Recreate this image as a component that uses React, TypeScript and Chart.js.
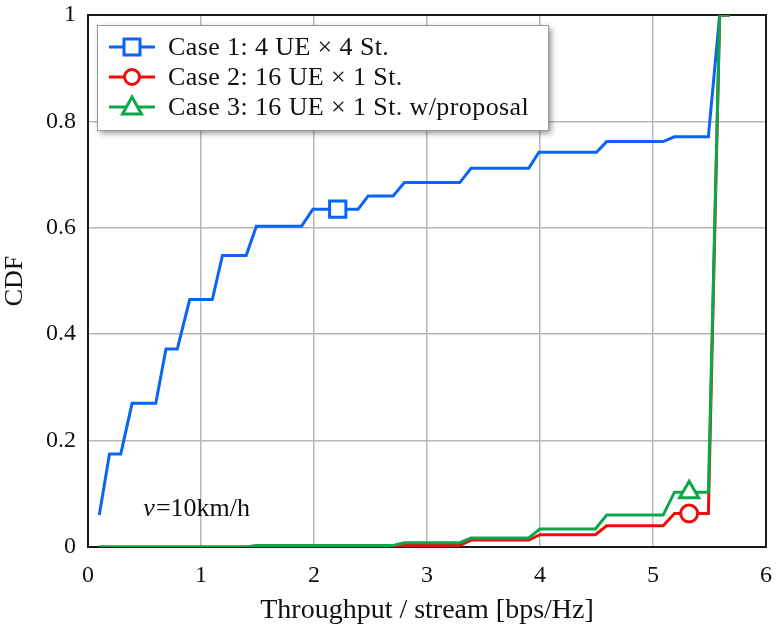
import React, { useEffect, useRef } from 'react';
import { Chart, registerables } from 'chart.js';
Chart.register(...registerables);

const seriesNames = ['Case 1: 4 UE × 4 St.', 'Case 2: 16 UE × 1 St.', 'Case 3: 16 UE × 1 St. w/proposal'];
const seriesColors = ['#0a64f5', '#f00c0c', '#0aa84a'];
const markerStyles = ['rect', 'circle', 'triangle'];

const case1X = [0.1, 0.19, 0.29, 0.39, 0.6, 0.69, 0.79, 0.9, 1.1, 1.19, 1.4, 1.49, 1.89, 1.99, 2.21, 2.39, 2.48, 2.7, 2.8, 3.29, 3.39, 3.9, 3.99, 4.5, 4.59, 5.09, 5.19, 5.49, 5.59, 5.68];
const case1Y = [0.06, 0.175, 0.175, 0.27, 0.27, 0.372, 0.372, 0.465, 0.465, 0.548, 0.548, 0.603, 0.603, 0.635, 0.635, 0.635, 0.66, 0.66, 0.685, 0.685, 0.712, 0.712, 0.742, 0.742, 0.762, 0.762, 0.771, 0.771, 1.0, 1.0];
const case1Marker = 14;

const case2X = [0.1, 1.4, 1.49, 2.7, 2.8, 3.29, 3.39, 3.9, 4.0, 4.49, 4.59, 5.09, 5.19, 5.32, 5.49, 5.59, 5.68];
const case2Y = [0, 0, 0.002, 0.002, 0.003, 0.003, 0.013, 0.013, 0.023, 0.023, 0.04, 0.04, 0.063, 0.063, 0.063, 1.0, 1.0];
const case2Marker = 13;

const case3X = [0.1, 1.4, 1.49, 2.7, 2.8, 3.29, 3.39, 3.9, 4.0, 4.49, 4.59, 5.09, 5.19, 5.32, 5.49, 5.59, 5.68];
const case3Y = [0, 0, 0.003, 0.003, 0.008, 0.008, 0.017, 0.017, 0.034, 0.034, 0.06, 0.06, 0.103, 0.103, 0.103, 1.0, 1.0];
const case3Marker = 13;

const xTicks = [0, 1, 2, 3, 4, 5, 6];
const xTickLabels = ['0', '1', '2', '3', '4', '5', '6'];
const yTicks = [0, 0.2, 0.4, 0.6, 0.8, 1];
const yTickLabels = ['0', '0.2', '0.4', '0.6', '0.8', '1'];
const xTitle = 'Throughput / stream [bps/Hz]';
const yTitle = 'CDF';
const noteVar = 'v';
const noteRest = '=10km/h';
const noteX = 0.49;
const noteY = 0.072;

const FONT = '"Liberation Serif", "Times New Roman", serif';

function toPoints(xs: number[], ys: number[]) {
  return xs.map((x, i) => ({ x, y: ys[i] }));
}

function drawMarker(ctx: CanvasRenderingContext2D, style: string, x: number, y: number, color: string) {
  ctx.save();
  ctx.lineWidth = 3;
  ctx.strokeStyle = color;
  ctx.fillStyle = '#fff';
  ctx.beginPath();
  if (style === 'rect') {
    ctx.rect(x - 8, y - 8, 16, 16);
  } else if (style === 'circle') {
    ctx.arc(x, y, 7.5, 0, Math.PI * 2);
  } else {
    ctx.moveTo(x, y - 10);
    ctx.lineTo(x + 9.5, y + 7);
    ctx.lineTo(x - 9.5, y + 7);
    ctx.closePath();
  }
  ctx.fill();
  ctx.stroke();
  ctx.restore();
}

const framePlugin = {
  id: 'frame',
  beforeDatasetsDraw(chart: any) {
    const { ctx, chartArea: a } = chart;
    ctx.save();
    ctx.strokeStyle = '#1a1a1a';
    ctx.lineWidth = 2;
    ctx.strokeRect(a.left, a.top, a.right - a.left, a.bottom - a.top);
    ctx.restore();
  },
};

const overlayPlugin = {
  id: 'overlay',
  afterDatasetsDraw(chart: any) {
    const { ctx } = chart;
    const xs = chart.scales.x;
    const ys = chart.scales.y;
    const nx = xs.getPixelForValue(noteX);
    const ny = ys.getPixelForValue(noteY);
    ctx.save();
    ctx.fillStyle = '#111';
    ctx.textBaseline = 'middle';
    ctx.textAlign = 'left';
    ctx.font = `italic 26px ${FONT}`;
    ctx.fillText(noteVar, nx, ny);
    const w = ctx.measureText(noteVar).width;
    ctx.font = `26px ${FONT}`;
    ctx.fillText(noteRest, nx + w + 1, ny);
    ctx.restore();

    const lx = 97, ly = 25, lw = 451, lh = 105;
    ctx.save();
    ctx.shadowColor = 'rgba(0,0,0,0.45)';
    ctx.shadowBlur = 6;
    ctx.shadowOffsetX = 3;
    ctx.shadowOffsetY = 3;
    ctx.fillStyle = '#fff';
    ctx.fillRect(lx, ly, lw, lh);
    ctx.restore();
    ctx.save();
    ctx.strokeStyle = '#999';
    ctx.lineWidth = 1;
    ctx.strokeRect(lx + 0.5, ly + 0.5, lw, lh);
    const rows = [47, 77, 107];
    seriesNames.forEach((name, i) => {
      const y = rows[i];
      ctx.strokeStyle = seriesColors[i];
      ctx.lineWidth = 3;
      ctx.beginPath();
      ctx.moveTo(109, y);
      ctx.lineTo(155, y);
      ctx.stroke();
      drawMarker(ctx, markerStyles[i], 132, y, seriesColors[i]);
      ctx.fillStyle = '#111';
      ctx.font = `26px ${FONT}`;
      (ctx as any).letterSpacing = '0.4px';
      ctx.textBaseline = 'middle';
      ctx.textAlign = 'left';
      ctx.fillText(name, 168, y + 1);
    });
    ctx.restore();
  },
};

export default function App() {
  const ref = useRef<HTMLCanvasElement | null>(null);
  useEffect(() => {
    if (!ref.current) return;
    const series = [
      { xs: case1X, ys: case1Y, m: case1Marker },
      { xs: case2X, ys: case2Y, m: case2Marker },
      { xs: case3X, ys: case3Y, m: case3Marker },
    ];
    const datasets = series.map((s, i) => ({
      label: seriesNames[i],
      data: toPoints(s.xs, s.ys),
      borderColor: seriesColors[i],
      backgroundColor: '#ffffff',
      borderWidth: 3,
      pointStyle: markerStyles[i] as any,
      pointRadius: s.xs.map((_, j) => (j === s.m ? (i === 0 ? 11.5 : i === 1 ? 8.5 : 11) : 0)),
      pointBorderWidth: 3,
      pointHoverRadius: 0,
      tension: 0,
      fill: false,
      order: 2 - i,
    }));
    const chart = new Chart(ref.current, {
      type: 'line',
      data: { datasets },
      plugins: [framePlugin, overlayPlugin],
      options: {
        responsive: false,
        animation: false,
        events: [],
        layout: { padding: { top: 15, right: 11, left: 0, bottom: 0 } },
        plugins: { legend: { display: false }, tooltip: { enabled: false } },
        scales: {
          x: {
            type: 'linear',
            min: 0,
            max: 6,
            afterBuildTicks: (s: any) => { s.ticks = xTicks.map((v) => ({ value: v })); },
            afterFit: (s: any) => { s.height = 84; s.paddingLeft = 0; s.paddingRight = 0; },
            grid: { color: '#b8b8b8', lineWidth: 1.5, drawTicks: false },
            border: { display: false },
            ticks: {
              color: '#111', font: { family: FONT, size: 24 }, padding: 14, maxRotation: 0,
              callback: (v: any) => { const i = xTicks.indexOf(Number(v)); return i >= 0 ? xTickLabels[i] : ''; },
            },
            title: { display: true, text: xTitle, color: '#111', font: { family: FONT, size: 28 }, padding: { top: 3 } },
          },
          y: {
            type: 'linear',
            min: 0,
            max: 1,
            afterBuildTicks: (s: any) => { s.ticks = yTicks.map((v) => ({ value: v })); },
            afterFit: (s: any) => { s.width = 88; s.paddingTop = 0; s.paddingBottom = 0; },
            grid: { color: '#b8b8b8', lineWidth: 1.5, drawTicks: false },
            border: { display: false },
            ticks: {
              color: '#111', font: { family: FONT, size: 24 }, padding: 12,
              callback: (v: any) => { const i = yTicks.findIndex((t) => Math.abs(t - Number(v)) < 1e-9); return i >= 0 ? yTickLabels[i] : ''; },
            },
            title: { display: true, text: yTitle, color: '#111', font: { family: FONT, size: 26 }, padding: { top: 0, bottom: 0 } },
          },
        },
      },
    } as any);
    return () => chart.destroy();
  }, []);
  return (
    <canvas
      ref={ref}
      width={777}
      height={631}
      style={{ position: 'fixed', left: 0, top: 0, width: 777, height: 631, display: 'block', background: '#fff' }}
    />
  );
}
